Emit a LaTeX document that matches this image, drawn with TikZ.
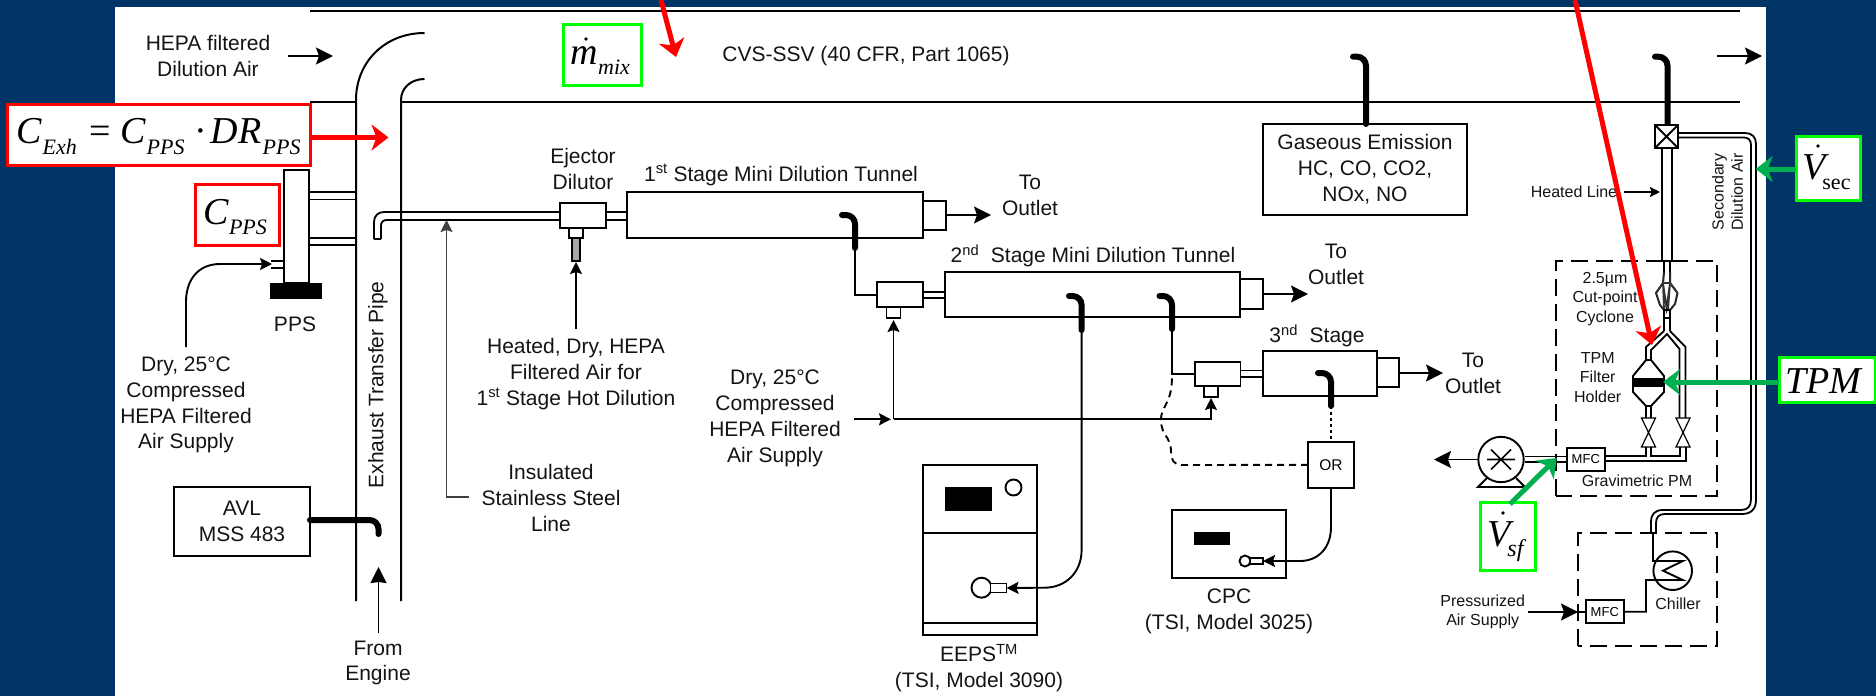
\documentclass[tikz,border=0pt]{standalone}
\usepackage{fontspec}
\setmainfont{Liberation Sans}
\newfontfamily\tnr{Liberation Serif}
\usetikzlibrary{arrows.meta,calc}
\definecolor{navy}{RGB}{0,51,102}
\definecolor{brightgreen}{RGB}{0,255,0}
\definecolor{arrowgreen}{RGB}{0,176,80}
% helper: a boxed node from its corners
\newcommand\boxat[6][plainbox]{%
  \pgfmathsetmacro\bxw{#5-#3}\pgfmathsetmacro\bxh{#6-#4}%
  \pgfmathsetmacro\bxx{(#5+#3)/2}\pgfmathsetmacro\bxy{(#6+#4)/2}%
  \node[#1,minimum width=\bxw pt,minimum height=\bxh pt] (#2) at (\bxx,\bxy) {};}
\newcommand\serifbig{\tnr\fontsize{38}{38}\selectfont}
\newcommand\serifsub{\tnr\fontsize{22}{22}\selectfont}
\newcommand\placed[3]{\rlap{\hspace*{#1pt}\raisebox{#2pt}{#3}}}
\tikzset{
  plainbox/.style={draw=black,line width=1.9pt,fill=white,inner sep=0pt,outer sep=0pt},
  redbox/.style={draw=red,line width=3pt,fill=white,inner sep=0pt,outer sep=0pt},
  greenbox/.style={draw=brightgreen,line width=3pt,fill=white,inner sep=0pt,outer sep=0pt},
  blackbar/.style={fill=black,draw=none,inner sep=0pt,outer sep=0pt},
  graybox/.style={draw=black,line width=1.6pt,fill=black!35,inner sep=0pt,outer sep=0pt},
  dashbox/.style={draw=black,line width=2pt,dash pattern=on 17pt off 8pt},
  lbl/.style={font=\fontsize{21}{25.8}\selectfont,align=center,inner sep=0pt,text=black!92},
  smalllbl/.style={font=\fontsize{16}{19.2}\selectfont,align=center,inner sep=0pt,text=black!92},
  formula/.style={inner sep=0pt,anchor=base west,text=black},
  pipe/.style={draw=black,line width=2pt},
  wire/.style={draw=black,line width=1.9pt},
  tube/.style={draw=black,line width=1.8pt},
  probe/.style={draw=black,line width=6pt,line cap=round,rounded corners=9pt},
  bigtip/.style={-{Stealth[length=17pt,width=17pt,inset=3pt]}},
  midtip/.style={-{Stealth[length=12pt,width=12pt,inset=2pt]}},
  redarrow/.style={draw=red,line width=5pt,-{Stealth[length=17pt,width=26pt,inset=5pt]}},
  greenarrow/.style={draw=arrowgreen,line width=5pt,-{Stealth[length=17pt,width=26pt,inset=5pt]}},
}
\begin{document}
\begin{tikzpicture}[x=1pt,y=-1pt]
\useasboundingbox (0,0) rectangle (1876,696);
\fill[navy] (0,0) rectangle (1876,696);
\fill[white] (115,7) rectangle (1766,696);

% --- CVS tunnel and exhaust pipe
\coordinate (tunTopL) at (310,11); \coordinate (tunTopR) at (1740,11);
\coordinate (tunBotL) at (310,102); \coordinate (tunBotA) at (356,102);
\coordinate (tunBotB) at (401,102); \coordinate (tunBotR) at (1740,102);
\draw[line width=2.6pt] (tunTopL) -- (tunTopR);
\draw[line width=2.6pt] (tunBotL) -- (tunBotA) (tunBotB) -- (tunBotR);
\coordinate (pipeLb) at (356,601); \coordinate (pipeRb) at (401,601);
\coordinate (pipeLt) at (424.5,33); \coordinate (pipeRt) at (424.5,79);
\draw[pipe] (pipeLb) -- (356,100) .. controls (356,62) and (385,33) .. (pipeLt);
\draw[pipe] (pipeRb) -- (401,100) .. controls (401,88) and (411,79) .. (pipeRt);
\node[lbl,rotate=90] (pipelabel) at (378,385) {Exhaust Transfer Pipe};

\node[lbl] (hepa) at (208,56) {HEPA filtered\\Dilution Air};
\coordinate (hepaA) at (288,56); \coordinate (hepaB) at (333,56);
\draw[wire,bigtip] (hepaA) -- (hepaB);
\node[lbl] (cvs) at (866,56) {CVS-SSV (40 CFR, Part 1065)};
\coordinate (outA) at (1717,56); \coordinate (outB) at (1762,56);
\draw[wire,bigtip] (outA) -- (outB);

% --- PPS
\boxat{ppsbody}{284}{170}{309}{283}
\boxat[blackbar]{ppsbar}{269.5}{283}{322}{299}
\node[lbl] (ppslabel) at (295,324) {PPS};
\coordinate (ppsa) at (356,192); \coordinate (ppsb) at (356,199.5);
\coordinate (ppsc) at (356,238); \coordinate (ppsd) at (356,245);
\draw[tube] (309,192) -- (ppsa) (309,199.5) -- (ppsb) (309,238) -- (ppsc) (309,245) -- (ppsd);
\draw[tube] (271,261) -- (284,261) (271,268) -- (284,268);
\coordinate (ppsair) at (186,347); \coordinate (ppsin) at (272,264);
\draw[wire,midtip] (ppsair) -- (186,302) .. controls (186,280) and (198,264) .. (220,264) -- (ppsin);
\node[lbl] (dry1) at (186,405) {Dry, 25°C\\Compressed\\HEPA Filtered\\Air Supply};

% --- AVL
\boxat{avl}{174}{487}{310}{556}
\node[lbl] (avltxt) at (242,521) {AVL\\MSS 483};
\coordinate (avlp) at (378.5,534);
\draw[probe] (avl.east |- 0,520) -- (378.5,520) -- (avlp);
\coordinate (engA) at (378.5,633); \coordinate (engB) at (378.5,567);
\draw[wire,-{Stealth[length=16pt,width=16pt,inset=1pt]}] (engA) -- (engB);
\node[lbl] (engine) at (378,663) {From\\Engine};

% --- sampling tube
\draw[tube] (374,239) -- (374,222) .. controls (374,216) and (378,212) .. (384,212) -- (560,212);
\draw[tube] (381,239) -- (381,226) .. controls (381,222) and (383,220) .. (387,220) -- (560,220);
\draw[tube] (374,239) -- (381,239);
\coordinate (insB) at (469,497); \coordinate (insA) at (446.5,220);
\draw[wire,draw=black!75,midtip] (insB) -- (446.5,497) -- (insA);
\node[lbl] (insul) at (551,498) {Insulated\\Stainless Steel\\Line};

% --- ejector 1 and tunnel 1
\node[lbl] (ejlabel) at (583,169) {Ejector\\Dilutor};
\boxat{ej1}{560}{203}{606}{228}
\boxat{ej1s}{569}{228}{583}{238}
\boxat[graybox]{ej1t}{572}{238}{580}{261}
\coordinate (hdA) at (576,329); \coordinate (hdB) at (576,262);
\draw[wire,midtip] (hdA) -- (hdB);
\node[lbl] (hd) at (576,374) {Heated, Dry, HEPA\\Filtered Air for\\1\textsuperscript{st} Stage Hot Dilution};
\boxat{tun1}{627}{192}{923}{238}
\boxat{ex1}{923}{201}{946}{230}
\draw[tube] (ej1.east |- 0,212) -- (tun1.west |- 0,212) (ej1.east |- 0,220) -- (tun1.west |- 0,220);
\node[lbl] (t1lab) at (781,175) {1\textsuperscript{st} Stage Mini Dilution Tunnel};
\coordinate (o1) at (991,215);
\draw[wire,bigtip] (ex1.east |- o1) -- (o1);
\node[lbl] (to1) at (1030,195) {To\\Outlet};

% --- ejector 2 and tunnel 2
\boxat{ej2}{877}{282}{923}{307}
\boxat{ej2s}{886.5}{307}{900.5}{318}
\boxat{tun2}{945}{272}{1240}{317}
\boxat{ex2}{1240}{279}{1263}{309}
\draw[tube] (ej2.east |- 0,292) -- (tun2.west |- 0,292) (ej2.east |- 0,298) -- (tun2.west |- 0,298);
\coordinate (p1a) at (855,248);
\draw[wire] (p1a) -- (855,295) -- (ej2.west |- 0,295);
\draw[probe] (842,215) -- (855,215) -- (p1a);
\node[lbl] (t2lab) at (1093,256) {2\textsuperscript{nd}\ \ Stage Mini Dilution Tunnel};
\coordinate (o2) at (1308,294);
\draw[wire,bigtip] (ex2.east |- o2) -- (o2);
\node[lbl] (to2) at (1336,264.5) {To\\Outlet};

% --- ejector 3 and tunnel 3
\boxat{ej3}{1195}{362}{1240.5}{386}
\boxat{ej3s}{1204}{386}{1218}{397}
\boxat{tun3}{1263}{351}{1377}{396}
\boxat{ex3}{1377}{358}{1399}{387}
\draw[tube] (ej3.east |- 0,370.5) -- (tun3.west |- 0,370.5) (ej3.east |- 0,377) -- (tun3.west |- 0,377);
\coordinate (p2a) at (1172,329);
\draw[wire] (p2a) -- (1172,374) -- (ej3.west |- 0,374);
\draw[probe] (1159.5,296) -- (1172,296) -- (p2a);
\node[lbl] (t3lab) at (1317,336) {3\textsuperscript{nd}\ \ Stage};
\coordinate (o3) at (1443,373);
\draw[wire,bigtip] (ex3.east |- o3) -- (o3);
\node[lbl] (to3) at (1473,373.5) {To\\Outlet};

% --- dry air supply
\node[lbl] (dry2) at (775,418.5) {Dry, 25°C\\Compressed\\HEPA Filtered\\Air Supply};
\coordinate (airA) at (854,419.3); \coordinate (airB) at (891,419.3);
\draw[wire,midtip] (airA) -- (airB);
\coordinate (airC) at (893.5,419.3);
\draw[wire,midtip] (airC) -- (893.5,320);
\draw[wire,midtip] (airC) -- (1211,419.3) -- (1211,398);

% --- EEPS
\boxat{eeps}{923}{465}{1037}{635}
\coordinate (eA) at (923,533); \coordinate (eB) at (1037,533);
\coordinate (eC) at (923,623); \coordinate (eD) at (1037,623);
\draw[wire] (eA) -- (eB) (eC) -- (eD);
\boxat[blackbar]{eepsscr}{945}{487}{992}{511}
\node[draw,line width=1.9pt,circle,minimum size=16pt,inner sep=0pt,fill=white] (eepsknob) at (1013.5,487.5) {};
\node[draw,line width=1.9pt,circle,minimum size=20pt,inner sep=0pt,fill=white] (eepsinC) at (981.5,587.7) {};
\boxat{eepsinR}{990.5}{583.5}{1006.5}{592.5}
\coordinate (p3a) at (1081.6,330);
\draw[wire,midtip] (p3a) -- (1081.6,550) .. controls (1081.6,572) and (1066,587.7) .. (1044.5,587.7) -- (eepsinR.east);
\draw[probe] (1069,296) -- (1081.6,296) -- (p3a);
\node[lbl] (eepslab) at (979,668) {EEPS\textsuperscript{TM}\\(TSI, Model 3090)};

% --- OR and CPC
\boxat{orbox}{1308}{442}{1354}{487.7}
\node[font=\fontsize{15.5}{18}\selectfont,inner sep=0pt] (ortext) at (1331,465) {OR};
\coordinate (p4a) at (1331,406);
\draw[probe] (1318,373) -- (1331,373) -- (p4a);
\draw[line width=1.9pt,dash pattern=on 3pt off 3pt] (p4a) -- (orbox.north);
\draw[wire,dash pattern=on 7pt off 5pt] (orbox.west) -- (1182,465) .. controls (1174,465) and (1171,460) .. (1171,452) .. controls (1171,436) and (1161,436) .. (1161,420) .. controls (1161,405) and (1172,405) .. (1172,376);
\boxat{cpc}{1172}{510}{1286}{578}
\boxat[blackbar]{cpcscr}{1194}{532}{1230}{545}
\node[draw,line width=1.9pt,circle,minimum size=11pt,inner sep=0pt,fill=white] (cpcC) at (1245,561) {};
\boxat{cpcR}{1250.5}{558}{1263}{564}
\draw[wire,midtip] (orbox.south) -- (1331,527) .. controls (1331,548) and (1318,561) .. (1300,561) -- (cpcR.east);
\node[lbl] (cpclab) at (1229,611) {CPC\\(TSI, Model 3025)};

% --- gaseous emission
\boxat{gas}{1263}{124}{1467}{215}
\node[lbl] (gastxt) at (1365,169.5) {Gaseous Emission\\HC, CO, CO2,\\NOx, NO};
\draw[probe] (1353,56.7) -- (1366,56.7) -- (gas.north -| 1366,0);

% --- heated line and gravimetric branch
\draw[probe] (1655,56.7) -- (1667.5,56.7) -- (1667.5,125);
\boxat{valve}{1655}{125}{1678}{148}
\draw[wire] (valve.north west) -- (valve.south east) (valve.north east) -- (valve.south west);
\draw[tube] (valve.south -| 1661.7,0) -- (1661.7,261) -- (1672,261) -- (valve.south -| 1672,0);
\node[smalllbl] (hl) at (1574,192) {Heated Line};
\coordinate (hlA) at (1624,192); \coordinate (hlB) at (1660,192);
\draw[wire,-{Stealth[length=10pt,width=10pt,inset=1.5pt]}] (hlA) -- (hlB);

% secondary dilution air
\draw[tube] (valve.east |- 0,133) -- (1745,133) .. controls (1752,133) and (1756,137) .. (1756,144) -- (1756,500) .. controls (1756,509) and (1751,514) .. (1742,514) -- (1665,514) .. controls (1659,514) and (1656,517) .. (1656,523) -- (1656,532.7);
\draw[tube] (valve.east |- 0,137.5) -- (1744,137.5) .. controls (1748,137.5) and (1751,140) .. (1751,145) -- (1751,499) .. controls (1751,506) and (1748,510) .. (1741,510) -- (1663,510) .. controls (1655,510) and (1651,514) .. (1651,522) -- (1651,532.7);
\node[smalllbl,rotate=90] (secd) at (1727.5,192) {Secondary\\Dilution Air};

% dashed enclosures
\draw[dashbox] (1556,496) -- (1556,261) -- (1716.7,261) -- (1716.7,496) -- cycle;
\draw[dashbox] (1578,646) -- (1578,532.7) -- (1716.7,532.7) -- (1716.7,646) -- cycle;

% cyclone
\draw[tube] (1664,261) -- (1664,273) (1670,261) -- (1670,273);
\draw[line width=2pt,black!85,line join=round] (1664,272) -- (1663,283) -- (1656,293) -- (1660,305) -- (1664,310) -- (1670,310) -- (1675,304) -- (1677.5,293) -- (1670,283) -- (1670,272);
\draw[line width=1.8pt,black!80] (1656,293) -- (1663,283) -- (1670,283) -- (1677.5,293) (1663,283) -- (1664,310) (1670,283) -- (1668,310) (1663,283) -- (1666.5,308) -- (1670,283);
\draw[line width=2pt] (1664,310) rectangle (1670,318);
\draw[tube] (1664,318) -- (1664,331) (1670,318) -- (1670,331);
\node[smalllbl] (cyc) at (1605,299) {2.5µm\\Cut-point\\Cyclone};

% Y split
\draw[tube] (1664,331) -- (1646,347) -- (1646,360);
\draw[tube] (1651,360) -- (1651,350) -- (1667,334) -- (1679.5,349) -- (1679.5,418);
\draw[tube] (1670,331) -- (1685.5,347) -- (1685.5,418);

% filter holder
\draw[wire,fill=white] (1646,360) -- (1633,376) -- (1633,392) -- (1646,406) -- (1651,406) -- (1664,392) -- (1664,376) -- (1651,360) -- cycle;
\boxat[blackbar]{filter}{1633}{378}{1664}{387}
\draw[tube] (1646,406) -- (1646,418) (1651,406) -- (1651,418);
\node[smalllbl] (fh) at (1597.7,377.5) {TPM\\Filter\\Holder};

% pinch valves
\foreach \cx in {1648.5,1683}{
  \draw[line width=1.2pt] (\cx-7,418) -- (\cx+7,418) -- (\cx-7,447) -- (\cx+7,447) -- cycle;
}
% lines below valves
\boxat{mfc1}{1566.7}{447.7}{1605}{470.7}
\node[font=\fontsize{13}{15}\selectfont,inner sep=0pt] (mfctxt1) at (1585.8,459.3) {MFC};
\draw[tube] (mfc1.east |- 0,456) -- (1646,456) -- (1646,447);
\draw[tube] (1651,447) -- (1651,456) -- (1680,456) -- (1680,447);
\draw[tube] (mfc1.east |- 0,461) -- (1686,461) -- (1686,447);
\node[smalllbl] (grav) at (1637,481) {Gravimetric PM};

% pump
\coordinate (pumpout) at (1434,459.5);
\node[draw,line width=1.9pt,circle,minimum size=45.4pt,inner sep=0pt] (pump) at (1501,459.5) {};
\draw[wire,bigtip] (pump.west) -- (pumpout);
\draw[tube] (pump.east |- 0,456.5) -- (mfc1.west |- 0,456.5) (pump.east |- 0,462) -- (mfc1.west |- 0,462);
\draw[line width=1.7pt] (1487,459.5) -- (1515,459.5) (1491,449.5) -- (1511,469.5) (1511,449.5) -- (1491,469.5);
\draw[line width=1.9pt] (1487,478) -- (1478,487) -- (1525,487) -- (1516,478);
\node[smalllbl] (lab) at (1482.7,612) {Pressurized\\Air Supply};

% chiller
\boxat{mfc2}{1585.7}{600}{1624}{623.3}
\node[font=\fontsize{13}{15}\selectfont,inner sep=0pt] (mfctxt2) at (1604.8,611.8) {MFC};
\node[draw,line width=1.9pt,circle,minimum size=38.6pt,inner sep=0pt] (chill) at (1672.7,570.7) {};
\draw[wire] (1653,532.7) -- (1653,561) -- (1682.7,561) -- (1663,570.7) -- (1682.7,580) -- (1646,580) -- (1646,611.7) -- (mfc2.east |- 0,611.7);
\node[smalllbl] (chl) at (1678,603.7) {Chiller};
\coordinate (prA) at (1527.7,612); \coordinate (prB) at (1578,612);
\draw[wire,bigtip] (prA) -- (prB);
\draw[wire] (prB) -- (mfc2.west |- prB);

% --- overlay boxes
\boxat[redbox]{cexh}{7.5}{104}{310.5}{165}
\node[formula] (cexhf) at (15.5,143) {\serifbig\itshape
  \placed{0}{0}{C}\placed{26.5}{-11}{\serifsub\itshape Exh}\placed{73.5}{0}{\upshape =}\placed{104.5}{0}{C}\placed{130.5}{-11}{\serifsub\itshape PPS}\placed{178}{0}{\upshape ·}\placed{194.5}{0}{DR}\placed{246.5}{-11}{\serifsub\itshape PPS}};
\coordinate (cexhtip) at (388.5,137.5);
\draw[redarrow] (cexh.east |- cexhtip) -- (cexhtip);

\boxat[redbox]{cpps}{195}{184}{279}{245}
\node[formula] (cppsf) at (203,224) {\serifbig\itshape C\placed{0}{-10}{\hspace*{0.5pt}\serifsub\itshape PPS}};

\boxat[greenbox]{mmix}{563}{24}{641}{85}
\node[formula] (mmixf) at (570.5,64) {\serifbig\itshape m\placed{0}{-10}{\serifsub\itshape mix}};
\fill (586,39) circle (1.9);

\coordinate (r1s) at (661,0); \coordinate (r1e) at (676,57);
\draw[redarrow] (r1s) -- (r1e);
\coordinate (r2s) at (1575,0); \coordinate (r2e) at (1652,345);
\draw[redarrow] (r2s) -- (r2e);

\boxat[greenbox]{vsec}{1796}{136}{1860}{200}
\node[formula] (vsecf) at (1802,179) {\serifbig\itshape V\placed{-3}{-10}{\serifsub\upshape sec}};
\fill (1818,146) circle (1.9);
\coordinate (vsectip) at (1755.7,169);
\draw[greenarrow] (vsec.west |- vsectip) -- (vsectip);

\boxat[greenbox]{tpm}{1779}{357}{1875}{402}
\node[formula] (tpmf) at (1785,393) {\serifbig\itshape TPM};
\coordinate (tpmtip) at (1663,382);
\draw[greenarrow] (tpm.west |- tpmtip) -- (tpmtip);

\boxat[greenbox]{vsf}{1480}{502}{1535}{570}
\node[formula] (vsff) at (1487,546.7) {\serifbig\itshape V\placed{-3}{-10}{\fontsize{24}{24}\selectfont\itshape sf}};
\fill (1503,513) circle (1.9);
\coordinate (vsftip) at (1556.7,458);
\draw[greenarrow] (1510,504) -- (vsftip);
\end{tikzpicture}
\end{document}
